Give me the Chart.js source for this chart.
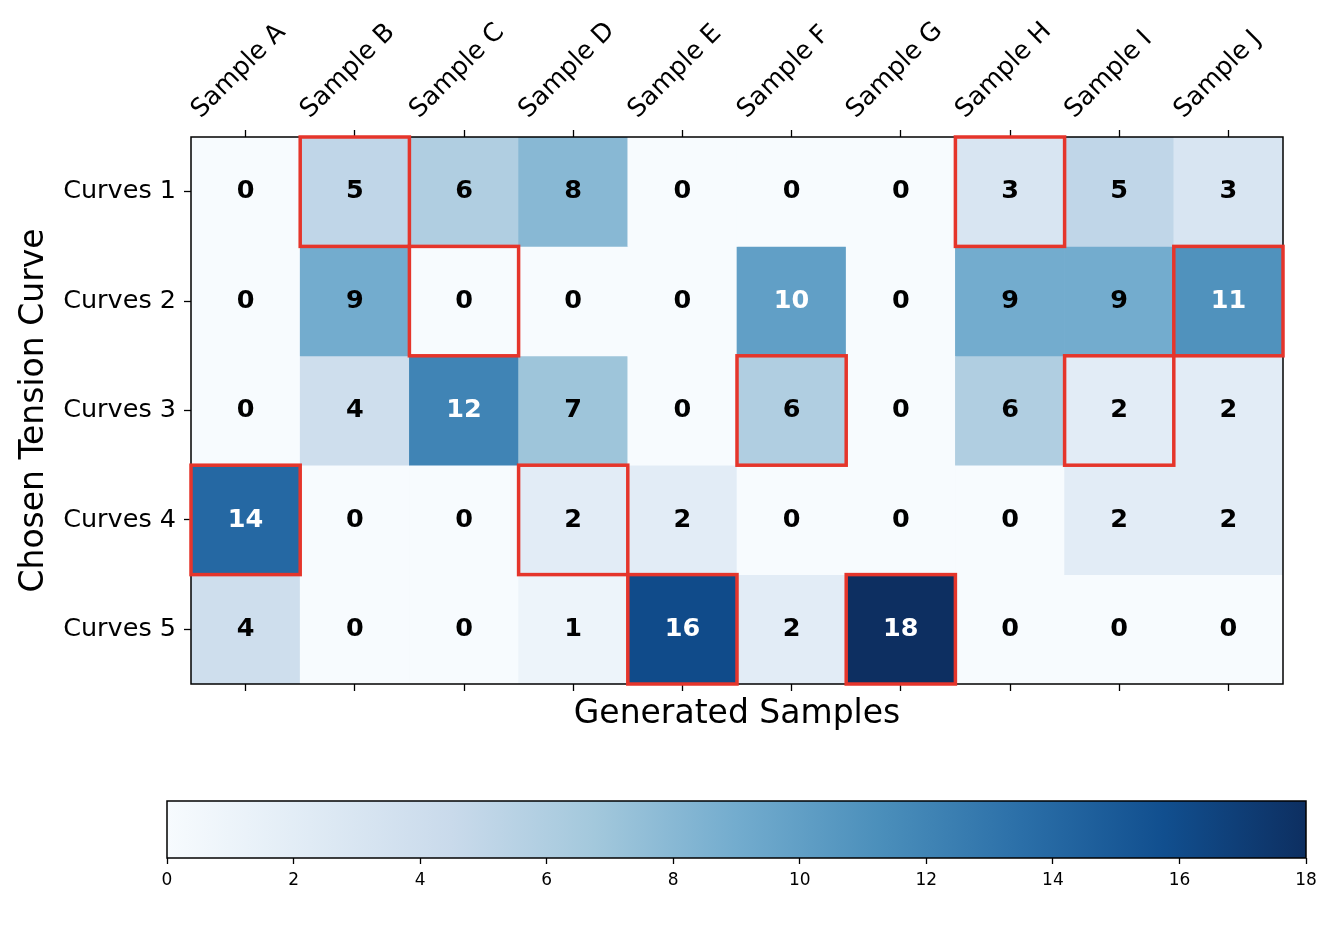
<!DOCTYPE html>
<html>
<head>
<meta charset="utf-8">
<script src="https://cdn.jsdelivr.net/npm/chart.js@4.4.0/dist/chart.umd.min.js"></script>
<style>
body { margin: 0; background: #fff; }
#wrap { position: relative; width: 1330px; height: 936px; }
#heatDiv { position: absolute; left: 0; top: 0; width: 1330px; height: 740px; }
#barDiv { position: absolute; left: 0; top: 780px; width: 1330px; height: 120px; }
</style>
</head>
<body>
<div id="wrap">
  <div id="heatDiv"><canvas id="heatChart"></canvas></div>
  <div id="barDiv"><canvas id="barChart"></canvas></div>
</div>
<script>
var samples = ['Sample A', 'Sample B', 'Sample C', 'Sample D', 'Sample E',
               'Sample F', 'Sample G', 'Sample H', 'Sample I', 'Sample J'];
var curves = ['Curves 1', 'Curves 2', 'Curves 3', 'Curves 4', 'Curves 5'];

// one row per curve, one column per sample
var row1 = [0, 5, 6, 8, 0, 0, 0, 3, 5, 3];
var row2 = [0, 9, 0, 0, 0, 10, 0, 9, 9, 11];
var row3 = [0, 4, 12, 7, 0, 6, 0, 6, 2, 2];
var row4 = [14, 0, 0, 2, 2, 0, 0, 0, 2, 2];
var row5 = [4, 0, 0, 1, 16, 2, 18, 0, 0, 0];
var counts = [row1, row2, row3, row4, row5];

// column indexes boxed in red, per row
var highlight = [[1, 7], [2, 9], [5, 8], [0, 3], [4, 6]];

var barTicks = [0, 2, 4, 6, 8, 10, 12, 14, 16, 18];
var vmax = 18;

var blues = ['#f7fbff', '#deebf7', '#c6dbef', '#9ecae1', '#6baed6',
             '#4292c6', '#2171b5', '#08519c', '#08306b'];
var font = 'DejaVu Sans';

function hexRgb(h) {
    var c = [parseInt(h.substr(1, 2), 16), parseInt(h.substr(3, 2), 16), parseInt(h.substr(5, 2), 16)];
    // the reference looks a touch greyer than the plain Blues map
    var lum = 0.3 * c[0] + 0.59 * c[1] + 0.11 * c[2];
    return c.map(function (x) { return x * 0.85 + lum * 0.15; });
}

function rgbStr(c) {
    return 'rgb(' + c.map(Math.round).join(',') + ')';
}

function blueColor(v) {
    var t = Math.max(0, Math.min(1, v / vmax)) * (blues.length - 1);
    var i = Math.min(Math.floor(t), blues.length - 2);
    var f = t - i;
    var a = hexRgb(blues[i]), b = hexRgb(blues[i + 1]);
    return rgbStr([0, 1, 2].map(function (k) { return a[k] + (b[k] - a[k]) * f; }));
}

var heatDatasets = [];
for (var r = 0; r < curves.length; r++) {
    heatDatasets.push({
        label: curves[r],
        data: counts[r].map((function (rr) { return function () { return [rr - 0.5, rr + 0.5]; }; })(r)),
        backgroundColor: counts[r].map(blueColor),
        borderWidth: 0,
        barPercentage: 1,
        categoryPercentage: 1,
        grouped: false
    });
}

var heatPlugin = {
    id: 'heatCells',
    afterDatasetsDraw: function (chart) {
        var ctx = chart.ctx, area = chart.chartArea;
        ctx.save();
        ctx.font = 'bold 25.5px "' + font + '"';
        ctx.textAlign = 'center';
        ctx.textBaseline = 'middle';
        for (var r = 0; r < counts.length; r++) {
            var meta = chart.getDatasetMeta(r);
            meta.data.forEach(function (bar, c) {
                var v = counts[r][c];
                ctx.fillStyle = v > vmax / 2 ? '#ffffff' : '#000000';
                ctx.fillText(String(v), bar.x, (bar.y + bar.base) / 2);
            });
        }
        ctx.strokeStyle = '#000';
        ctx.lineWidth = 1.5;
        ctx.strokeRect(area.left, area.top, area.right - area.left, area.bottom - area.top);

        ctx.strokeStyle = '#e5352b';
        ctx.lineWidth = 3.5;
        highlight.forEach(function (cols, r) {
            var meta = chart.getDatasetMeta(r);
            cols.forEach(function (c) {
                var bar = meta.data[c];
                var top = Math.min(bar.y, bar.base);
                ctx.strokeRect(bar.x - bar.width / 2, top, bar.width, Math.abs(bar.base - bar.y));
            });
        });
        ctx.restore();
    }
};

var framePlugin = {
    id: 'frame',
    afterDatasetsDraw: function (chart) {
        var ctx = chart.ctx, area = chart.chartArea;
        ctx.save();
        ctx.strokeStyle = '#000';
        ctx.lineWidth = 1.5;
        ctx.strokeRect(area.left, area.top, area.right - area.left, area.bottom - area.top);
        ctx.restore();
    }
};

var tickGrid = { drawOnChartArea: false, offset: false, tickLength: 7, tickColor: '#000', tickWidth: 1.3 };

new Chart(document.getElementById('heatChart').getContext('2d'), {
    type: 'bar',
    data: { labels: samples, datasets: heatDatasets },
    options: {
        responsive: true,
        maintainAspectRatio: false,
        animation: false,
        layout: { padding: { left: 0, right: 47, top: 0, bottom: 0 } },
        plugins: { legend: { display: false }, tooltip: { enabled: false } },
        scales: {
            x: {
                type: 'category',
                position: 'top',
                offset: true,
                grid: tickGrid,
                border: { display: false },
                ticks: {
                    color: '#000', font: { family: font, size: 25.5 },
                    minRotation: 45, maxRotation: 45, autoSkip: false,
                    padding: 5, labelOffset: -28
                },
                afterFit: function (s) { s.height = 137; }
            },
            x2: {
                type: 'category',
                position: 'bottom',
                offset: true,
                grid: tickGrid,
                border: { display: false },
                ticks: { display: false },
                title: {
                    display: true, text: 'Generated Samples', color: '#000',
                    font: { family: font, size: 33 }, padding: { top: 0, bottom: 6 }
                },
                afterFit: function (s) { s.height = 56; }
            },
            y: {
                type: 'linear',
                reverse: true,
                min: -0.5,
                max: 4.5,
                grid: { drawOnChartArea: false, tickLength: 7, tickColor: '#000', tickWidth: 1.3 },
                border: { display: false },
                afterBuildTicks: function (s) {
                    s.ticks = curves.map(function (c, i) { return { value: i }; });
                },
                ticks: {
                    color: '#000', font: { family: font, size: 25.5 }, padding: 8,
                    callback: function (v) { return curves[v]; }
                },
                title: {
                    display: true, text: 'Chosen Tension Curve', color: '#000',
                    font: { family: font, size: 33 }, padding: { top: 15, bottom: 0 }
                },
                afterFit: function (s) { s.width = 191; }
            }
        }
    },
    plugins: [heatPlugin]
});

new Chart(document.getElementById('barChart').getContext('2d'), {
    type: 'bar',
    data: {
        labels: [''],
        datasets: [{
            data: [[0, vmax]],
            backgroundColor: function (c) {
                var ch = c.chart, a = ch.chartArea;
                if (!a) return blues[0];
                var g = ch.ctx.createLinearGradient(a.left, 0, a.right, 0);
                blues.forEach(function (col, i) { g.addColorStop(i / (blues.length - 1), rgbStr(hexRgb(col))); });
                return g;
            },
            borderWidth: 0,
            barPercentage: 1,
            categoryPercentage: 1
        }]
    },
    options: {
        indexAxis: 'y',
        responsive: true,
        maintainAspectRatio: false,
        animation: false,
        layout: { padding: { left: 167, right: 24, top: 21, bottom: 0 } },
        plugins: { legend: { display: false }, tooltip: { enabled: false } },
        scales: {
            x: {
                type: 'linear',
                min: 0,
                max: vmax,
                afterBuildTicks: function (s) {
                    s.ticks = barTicks.map(function (v) { return { value: v }; });
                },
                grid: { drawOnChartArea: false, tickLength: 6, tickColor: '#000', tickWidth: 1.3 },
                border: { display: false },
                ticks: { color: '#000', font: { family: font, size: 17 }, padding: 6 },
                afterFit: function (s) { s.height = 42; }
            },
            y: { display: false }
        }
    },
    plugins: [framePlugin]
});
</script>
</body>
</html>
